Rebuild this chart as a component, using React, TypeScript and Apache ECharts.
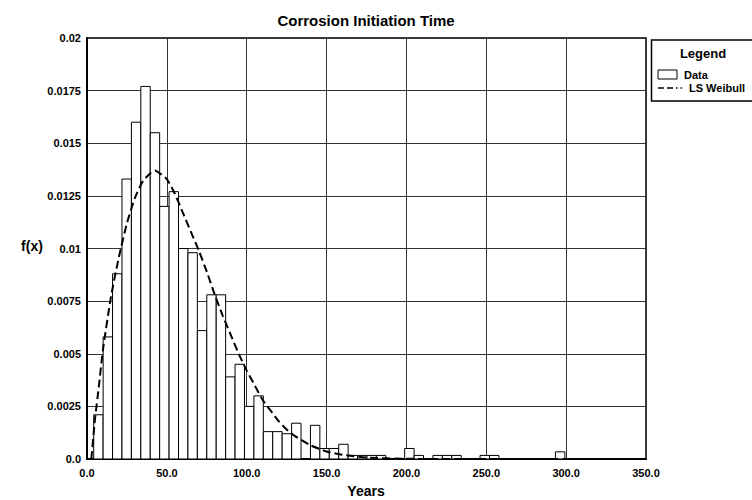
import React, { useEffect, useRef } from "react";
import * as echarts from "echarts";

// Histogram definition (years)
const BIN_START = 4.2;
const BIN_WIDTH = 5.9;
// Density of each bin
const density = [
  0.0021, 0.0058, 0.0088, 0.0133, 0.016, 0.0177, 0.0155, 0.012, 0.0127, 0.01,
  0.0098, 0.0061, 0.0078, 0.0078, 0.0039, 0.0045, 0.0025, 0.003, 0.0013, 0.0013,
  0.0012, 0.0017, 0, 0.0016, 0.0005, 0.0005, 0.0007, 0.00017, 0.00017, 0.00017,
  0.00017, 0, 0, 0.0005, 0.00017, 0, 0.00017, 0.00017, 0.00017, 0,
  0, 0.00017, 0.00017, 0, 0, 0, 0, 0, 0, 0.00034,
];

// LS Weibull curve
const weibullX = [
  2.7, 5, 7.5, 10, 15, 20, 25, 30, 35, 40, 42.5, 45, 50, 55, 60, 65, 70, 75, 80, 85,
  90, 95, 100, 105, 110, 115, 120, 125, 130, 140, 150, 160, 175, 200, 250, 300, 350,
];
const weibullY = [
  0, 0.0019, 0.0035, 0.0052, 0.0077, 0.0096, 0.0112, 0.0124, 0.0132, 0.0136, 0.0137,
  0.0136, 0.0133, 0.0126, 0.0117, 0.0108, 0.0099, 0.0089, 0.0078, 0.0068, 0.0059,
  0.005, 0.0042, 0.0035, 0.0028, 0.0023, 0.0018, 0.0014, 0.0011, 0.00065, 0.00036,
  0.0002, 0.00007, 0.00001, 0, 0, 0,
];

const xTickLabels = ["0.0", "50.0", "100.0", "150.0", "200.0", "250.0", "300.0", "350.0"];
const yTickLabels = ["0.0", "0.0025", "0.005", "0.0075", "0.01", "0.0125", "0.015", "0.0175", "0.02"];

const FONT = "'Liberation Sans', Arial, sans-serif";

export default function App() {
  const ref = useRef<HTMLDivElement>(null);

  useEffect(() => {
    if (!ref.current) return;
    const chart = echarts.init(ref.current, undefined, { renderer: "svg" });

    const histData = density
      .map((d, i) => [BIN_START + i * BIN_WIDTH, BIN_START + (i + 1) * BIN_WIDTH, d])
      .filter((r) => r[2] > 0);
    const lineData = weibullX.map((x, i) => [x, weibullY[i]]);

    const option: any = {
      animation: false,
      backgroundColor: "#fff",
      grid: {
        left: 87,
        right: 106,
        top: 38,
        bottom: 41,
        show: true,
        borderColor: "#000",
        borderWidth: 1.5,
        backgroundColor: "transparent",
      },
      xAxis: {
        type: "value",
        min: 0,
        max: 350,
        interval: 50,
        axisLine: { show: true, onZero: false, lineStyle: { color: "#000", width: 2 } },
        axisTick: { show: false },
        splitLine: { show: true, lineStyle: { color: "#333", width: 1 } },
        axisLabel: {
          margin: 8,
          color: "#000",
          fontFamily: FONT,
          fontWeight: "bold",
          fontSize: 11,
          showMinLabel: true,
          showMaxLabel: true,
          formatter: (_v: number, i: number) => xTickLabels[i] ?? "",
        },
      },
      yAxis: {
        type: "value",
        min: 0,
        max: 0.02,
        interval: 0.0025,
        axisLine: { show: true, onZero: false, lineStyle: { color: "#000", width: 2 } },
        axisTick: { show: false },
        splitLine: { show: true, lineStyle: { color: "#333", width: 1 } },
        axisLabel: {
          margin: 6,
          color: "#000",
          fontFamily: FONT,
          fontWeight: "bold",
          fontSize: 11,
          showMinLabel: true,
          showMaxLabel: true,
          formatter: (_v: number, i: number) => yTickLabels[i] ?? "",
        },
      },
      series: [
        {
          name: "Data",
          type: "custom",
          data: histData,
          encode: { x: [0, 1], y: 2 },
          z: 2,
          renderItem: (_params: any, api: any) => {
            const p0 = api.coord([api.value(0), api.value(2)]);
            const p1 = api.coord([api.value(1), 0]);
            return {
              type: "rect",
              shape: { x: p0[0], y: p0[1], width: p1[0] - p0[0], height: p1[1] - p0[1] },
              style: { fill: "#fff", stroke: "#000", lineWidth: 1 },
            };
          },
        },
        {
          name: "LS Weibull",
          type: "line",
          data: lineData,
          z: 3,
          showSymbol: false,
          symbol: "none",
          smooth: 0.2,
          lineStyle: { color: "#000", width: 2, type: [8, 4] },
        },
      ],
      graphic: [
        {
          type: "text",
          x: 366,
          y: 20,
          style: {
            text: "Corrosion Initiation Time",
            fill: "#000",
            font: `bold 15px ${FONT}`,
            align: "center",
            verticalAlign: "middle",
          },
        },
        {
          type: "text",
          x: 32,
          y: 246,
          style: {
            text: "f(x)",
            fill: "#000",
            font: `bold 14px ${FONT}`,
            align: "center",
            verticalAlign: "middle",
          },
        },
        {
          type: "text",
          x: 366,
          y: 491,
          style: {
            text: "Years",
            fill: "#000",
            font: `bold 14px ${FONT}`,
            align: "center",
            verticalAlign: "middle",
          },
        },
        {
          type: "rect",
          shape: { x: 651.5, y: 40, width: 110, height: 61 },
          style: { fill: "#fff", stroke: "#000", lineWidth: 1.5 },
        },
        {
          type: "text",
          x: 703,
          y: 53,
          style: {
            text: "Legend",
            fill: "#000",
            font: `bold 13px ${FONT}`,
            align: "center",
            verticalAlign: "middle",
          },
        },
        {
          type: "rect",
          shape: { x: 658, y: 70, width: 19, height: 9 },
          style: { fill: "#fff", stroke: "#000", lineWidth: 1 },
        },
        {
          type: "text",
          x: 684,
          y: 75,
          style: {
            text: "Data",
            fill: "#000",
            font: `bold 11px ${FONT}`,
            align: "left",
            verticalAlign: "middle",
          },
        },
        {
          type: "line",
          shape: { x1: 658, y1: 88, x2: 682, y2: 88 },
          style: { stroke: "#000", lineWidth: 1.5, lineDash: [6, 3, 6, 3, 1.5, 3] },
        },
        {
          type: "text",
          x: 689,
          y: 88,
          style: {
            text: "LS Weibull",
            fill: "#000",
            font: `bold 11px ${FONT}`,
            align: "left",
            verticalAlign: "middle",
          },
        },
      ],
    };

    chart.setOption(option);
    return () => chart.dispose();
  }, []);

  return (
    <div
      ref={ref}
      style={{ position: "absolute", left: 0, top: 0, width: 752, height: 500 }}
    />
  );
}
